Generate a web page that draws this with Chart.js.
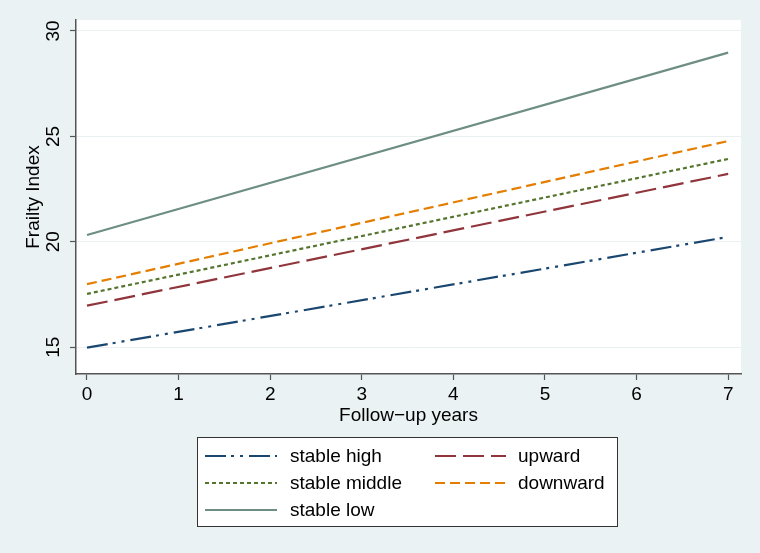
<!DOCTYPE html>
<html>
<head>
<meta charset="utf-8">
<script src="https://cdn.jsdelivr.net/npm/chart.js@4"></script>
<style>
  html, body { margin: 0; padding: 0; background: #eaf2f3; }
  canvas { display: block; }
</style>
</head>
<body>
<canvas id="chart" width="760" height="553"></canvas>
<script>
// data (linear fits, values at start and end of follow-up)
const years = [0, 7];
const stableHigh = [14.98, 20.23];
const upward = [16.97, 23.22];
const stableMiddle = [17.53, 23.93];
const downward = [17.99, 24.78];
const stableLow = [20.32, 28.97];

const xTicks = [0, 1, 2, 3, 4, 5, 6, 7];
const yTicks = [15, 20, 25, 30];

const FONT = "'Liberation Sans', Arial, Helvetica, sans-serif";

const pts = vals => years.map((x, i) => ({ x, y: vals[i] }));

const series = [
  { label: 'stable high', data: stableHigh, color: '#1a476f', dash: [21, 5, 3, 6, 3, 6] },
  { label: 'upward', data: upward, color: '#90353b', dash: [21, 7] },
  { label: 'stable middle', data: stableMiddle, color: '#55752f', dash: [4, 3] },
  { label: 'downward', data: downward, color: '#e37e00', dash: [10, 5] },
  { label: 'stable low', data: stableLow, color: '#6e8e84', dash: [] }
];

// white plot region
const plotBg = {
  id: 'plotBg',
  beforeDraw(chart) {
    const { ctx, chartArea: a } = chart;
    ctx.save();
    ctx.fillStyle = '#ffffff';
    ctx.fillRect(a.left, a.top, a.right - a.left, a.bottom - a.top);
    ctx.restore();
  }
};

// boxed two-column legend like stata's
const boxLegend = {
  id: 'boxLegend',
  afterDraw(chart) {
    const ctx = chart.ctx;
    const box = { x: 197.5, y: 437.5, w: 420, h: 89 };
    ctx.save();
    ctx.fillStyle = '#ffffff';
    ctx.fillRect(box.x, box.y, box.w, box.h);
    ctx.strokeStyle = '#333333';
    ctx.lineWidth = 1;
    ctx.strokeRect(box.x, box.y, box.w, box.h);

    const rows = [456, 483, 510];
    const cols = [{ x0: 205, x1: 277, tx: 290 }, { x0: 435, x1: 506, tx: 518 }];
    ctx.font = '19px ' + FONT;
    ctx.textBaseline = 'middle';
    ctx.fillStyle = '#000000';
    chart.data.datasets.forEach((s, i) => {
      const c = cols[i % 2];
      const y = rows[Math.floor(i / 2)];
      ctx.beginPath();
      ctx.setLineDash(s.borderDash || []);
      ctx.strokeStyle = s.borderColor;
      ctx.lineWidth = 2;
      ctx.moveTo(c.x0, y);
      ctx.lineTo(c.x1, y);
      ctx.stroke();
      ctx.setLineDash([]);
      ctx.fillText(s.label, c.tx, y + 1);
    });
    ctx.restore();
  }
};

new Chart(document.getElementById('chart'), {
  type: 'line',
  data: {
    datasets: series.map(s => ({
      label: s.label,
      data: pts(s.data),
      borderColor: s.color,
      backgroundColor: s.color,
      borderDash: s.dash,
      borderWidth: 2.2,
      pointRadius: 0,
      fill: false,
      tension: 0
    }))
  },
  options: {
    responsive: false,
    animation: false,
    devicePixelRatio: 1,
    layout: { padding: { top: 20, right: 19, left: 0, bottom: 0 } },
    plugins: {
      legend: { display: false },
      tooltip: { enabled: false }
    },
    scales: {
      x: {
        type: 'linear',
        min: -0.12,
        max: 7.14,
        afterBuildTicks: scale => { scale.ticks = xTicks.map(v => ({ value: v })); },
        afterFit: scale => { scale.height = 179; },
        ticks: {
          color: '#000',
          font: { family: FONT, size: 19 },
          padding: 3,
          maxRotation: 0,
          callback: v => v
        },
        grid: { drawOnChartArea: false, tickLength: 6, tickColor: '#555', tickWidth: 1.2 },
        border: { color: '#555', width: 1.5 },
        title: {
          display: true,
          text: 'Follow\u2212up years',
          color: '#000',
          font: { family: FONT, size: 19 },
          padding: { top: 0, bottom: 126 }
        }
      },
      y: {
        type: 'linear',
        min: 13.73,
        max: 30.52,
        afterBuildTicks: scale => { scale.ticks = yTicks.map(v => ({ value: v })); },
        afterFit: scale => { scale.width = 76; },
        ticks: {
          color: '#000',
          font: { family: FONT, size: 19 },
          minRotation: 90,
          maxRotation: 90,
          crossAlign: 'center',
          padding: 6,
          callback: v => v
        },
        grid: { color: '#eaf0f2', lineWidth: 1, tickLength: 6, tickColor: '#555', tickWidth: 1.2 },
        border: { color: '#555', width: 1.5 },
        title: {
          display: true,
          text: 'Frailty Index',
          color: '#000',
          font: { family: FONT, size: 19 },
          padding: { top: 22, bottom: 0 }
        }
      }
    }
  },
  plugins: [plotBg, boxLegend]
});
</script>
</body>
</html>
